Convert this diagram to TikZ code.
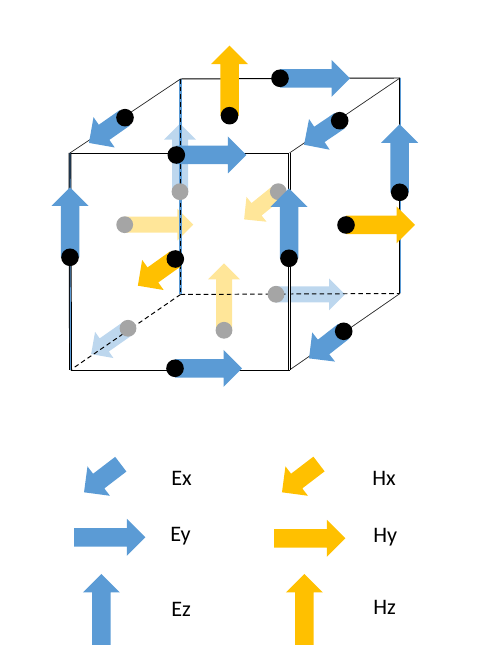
\documentclass[tikz,border=0pt]{standalone}
\usepackage{fontspec}
\setmainfont{Carlito}
\usetikzlibrary{calc}
\definecolor{eblue}{HTML}{5B9BD5}
\definecolor{hyellow}{HTML}{FFC000}
\definecolor{epale}{HTML}{BDD7EE}
\definecolor{hpale}{HTML}{FFE699}
\definecolor{dotgray}{HTML}{A5A5A5}
\tikzset{
  edge/.style={black, line width=0.55pt},
  slant/.style={black!85, line width=0.4pt},
  hidden/.style={edge, dash pattern=on 2.6pt off 1.8pt},
  label/.style={inner sep=0pt, anchor=base west, font=\fontsize{12.6}{15}\selectfont},
}
% tail, angle, length, colour, half width
\newcommand{\fieldarrow}[5]{%
  \fill[#4, shift={(#1)}, rotate=#2] (0,{-#5/2}) -- ({#3-#5},{-#5/2}) -- ({#3-#5},-#5)
    -- (#3,0) -- ({#3-#5},#5) -- ({#3-#5},{#5/2}) -- (0,{#5/2}) -- cycle;
}
\begin{document}
\begin{tikzpicture}[x=0.02cm, y=0.02cm]
\useasboundingbox (0,0) rectangle (479,672);
% Cube corners
\coordinate (ftl) at (70,519);
\coordinate (ftr) at (289.5,519);
\coordinate (fbr) at (289.5,302);
\coordinate (fbl) at (70.5,302);
\coordinate (btl) at (180.5,593);
\coordinate (btr) at (400,594);
\coordinate (bbl) at (180.5,377.5);
\coordinate (bbr) at (400,378.5);
% Faded arrows behind the cube
\fieldarrow{180,480.3}{90}{68}{epale}{16}
\fieldarrow{128,343.7}{215}{45}{epale}{16}
\fieldarrow{276,377.7}{0}{69}{epale}{16}
\fieldarrow{124.7,447.3}{0}{68.6}{hpale}{16}
\fieldarrow{224,341.7}{90}{67}{hpale}{16}
\fieldarrow{278.3,480.3}{219}{44}{hpale}{16}
% Hidden edges
\draw[eblue, line width=1.2pt] (btl) -- (bbl);
\draw[hidden, line width=0.7pt] (btl) -- (bbl);
\draw[hidden] (bbl) -- (bbr);
\draw[hidden] (bbl) -- (fbl);
% Visible edges
\draw[edge] (ftl) -- (ftr);
\draw[edge] (btl) -- (btr);
\draw[edge] (fbl) -- (fbr);
\draw[slant] (ftl) -- (btl);
\draw[slant] (ftr) -- (btr);
\draw[slant] (fbr) -- (bbr);
\draw[edge, double=eblue, double distance=0.5pt] (ftl) -- (fbl);
\draw[edge, double=white, double distance=0.5pt] (ftr) -- (fbr);
\draw[edge, double=eblue, double distance=0.5pt] (btr) -- (bbr);
% Gray dots
\fill[dotgray] (180,480.3) circle (8.4);
\fill[dotgray] (128,343.7) circle (8.4);
\fill[dotgray] (276,377.7) circle (8.4);
\fill[dotgray] (124.7,447.3) circle (8.4);
\fill[dotgray] (224,341.7) circle (8.4);
\fill[dotgray] (278.3,480.3) circle (8.4);
% Front arrows
\fieldarrow{229.5,556.3}{90}{70}{hyellow}{18.5}
\fieldarrow{280,593.7}{0}{70}{eblue}{18.5}
\fieldarrow{125,554.3}{215}{44}{eblue}{18.5}
\fieldarrow{176.3,517}{0}{70}{eblue}{18.5}
\fieldarrow{339.7,551.3}{214}{43}{eblue}{18.5}
\fieldarrow{399.7,479.7}{90}{68}{eblue}{18.5}
\fieldarrow{70,414.7}{90}{70}{eblue}{18.5}
\fieldarrow{289,413.7}{90}{70}{eblue}{18.5}
\fieldarrow{346,447}{0}{69}{hyellow}{18.5}
\fieldarrow{175.3,413}{215.5}{46}{hyellow}{18.5}
\fieldarrow{343.7,340.7}{218}{44}{eblue}{18.5}
\fieldarrow{175,303.7}{0}{67}{eblue}{18.5}
% Black dots
\fill[black] (229.5,556.3) circle (8.8);
\fill[black] (280,593.7) circle (8.8);
\fill[black] (125,554.3) circle (8.8);
\fill[black] (176.3,517) circle (8.8);
\fill[black] (339.7,551.3) circle (8.8);
\fill[black] (399.7,479.7) circle (8.8);
\fill[black] (70,414.7) circle (8.8);
\fill[black] (289,413.7) circle (8.8);
\fill[black] (346,447) circle (8.8);
\fill[black] (175.3,413) circle (8.8);
\fill[black] (343.7,340.7) circle (8.8);
\fill[black] (175,303.7) circle (8.8);
% Legend
\fieldarrow{120.8,207.8}{217.4}{46.3}{eblue}{18.5}
\fieldarrow{74,134.7}{0}{71.3}{eblue}{18.5}
\fieldarrow{101.3,27}{90}{71}{eblue}{18.5}
\fieldarrow{319,208}{217.4}{46.6}{hyellow}{18.5}
\fieldarrow{274,133.7}{0}{71.3}{hyellow}{18.5}
\fieldarrow{304.3,27}{90}{71}{hyellow}{18.5}
\node[label] (ex) at (171,186) {Ex};
\node[label] (ey) at (170,130.3) {Ey};
\node[label] (ez) at (171,55.3) {Ez};
\node[label] (hx) at (372,186.3) {Hx};
\node[label] (hy) at (373,129.7) {Hy};
\node[label] (hz) at (373,57) {Hz};
\end{tikzpicture}
\end{document}
